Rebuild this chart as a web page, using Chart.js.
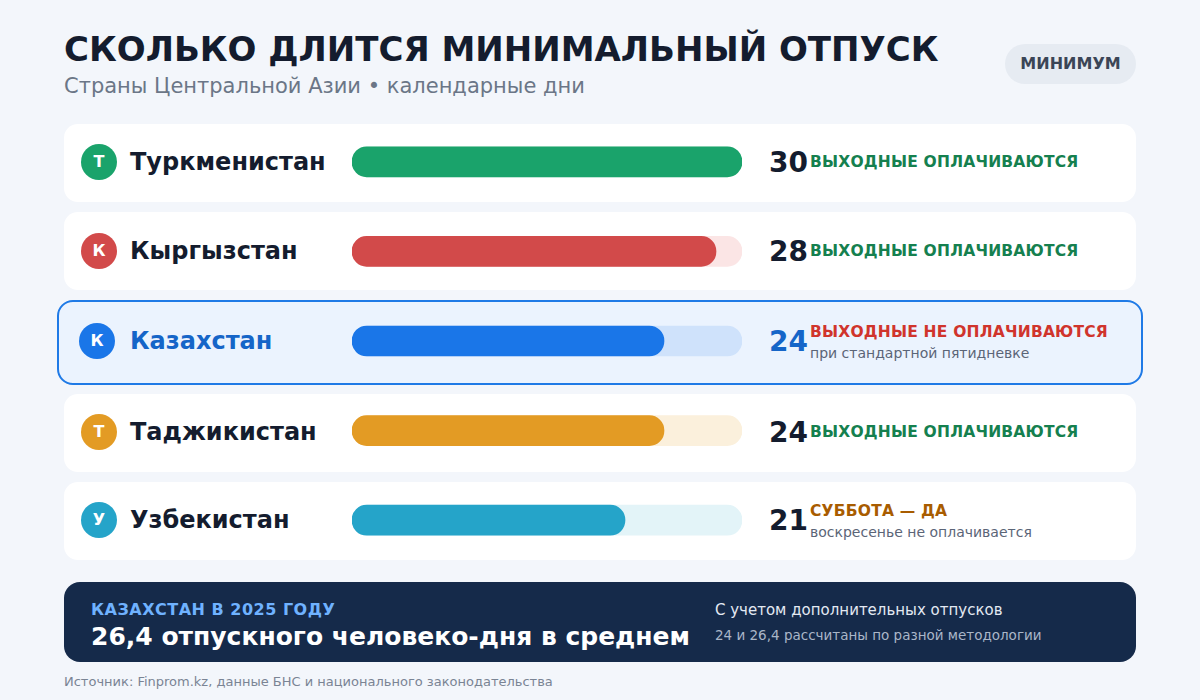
<!DOCTYPE html>
<html><head><meta charset="utf-8">
<script src="https://cdn.jsdelivr.net/npm/chart.js@4"></script>
<style>
body{margin:0;width:1200px;height:700px;background:#f3f6fb;font-family:"DejaVu Sans",sans-serif;position:relative;overflow:hidden}
.abs{position:absolute}
h1{position:absolute;left:64px;top:29px;margin:0;font-size:34px;font-weight:bold;color:#141c2e;letter-spacing:0}
.sub{left:64px;top:74px;font-size:21px;color:#6b7687}
.pill{left:1005px;top:44px;width:131px;height:40px;border-radius:20px;background:#e6ebf2;color:#3b4556;font-weight:bold;font-size:16px;line-height:40px;text-align:center}
.card{position:absolute;left:64px;width:1072px;height:78px;background:#fff;border-radius:14px}
.card.hl{left:57px;width:1082px;height:81px;background:#ebf3fe;border:2.5px solid #1f7ae6;border-radius:16px}
.ic{position:absolute;width:36px;height:36px;border-radius:18px;color:#fff;font-weight:bold;font-size:16px;line-height:36px;text-align:center}
.nm{position:absolute;font-size:24px;font-weight:bold;color:#141c2e}
.val{position:absolute;left:769px;font-size:28px;font-weight:bold;color:#141c2e}
.note{position:absolute;left:810px;font-size:15.5px;font-weight:bold;letter-spacing:0.2px}
.note2{position:absolute;left:810px;font-size:14px;color:#5b6577}
#wrap{position:absolute;left:352px;top:117px;width:390px;height:448px}
.foot{left:64px;top:582px;width:1072px;height:80px;background:#152a4a;border-radius:16px}
.src{left:64px;top:674px;font-size:13px;color:#7a8494}
</style></head><body>
<h1>СКОЛЬКО ДЛИТСЯ МИНИМАЛЬНЫЙ ОТПУСК</h1>
<div class="abs sub">Страны Центральной Азии • календарные дни</div>
<div class="abs pill">МИНИМУМ</div>
<div id="rows"></div>
<div id="wrap"><canvas id="c"></canvas></div>
<div class="abs foot">
 <div class="abs" style="left:27px;top:18px;font-size:16px;font-weight:bold;color:#6fb2ff;letter-spacing:0.5px">КАЗАХСТАН В 2025 ГОДУ</div>
 <div class="abs" style="left:27px;top:40px;font-size:25px;font-weight:bold;color:#fff">26,4 отпускного человеко-дня в среднем</div>
 <div class="abs" style="left:651px;top:19px;font-size:15px;color:#e3e9f2">С учетом дополнительных отпусков</div>
 <div class="abs" style="left:651px;top:45px;font-size:13.5px;color:#aab6c8">24 и 26,4 рассчитаны по разной методологии</div>
</div>
<div class="abs src">Источник: Finprom.kz, данные БНС и национального законодательства</div>
<script>
const countries = ['Туркменистан', 'Кыргызстан', 'Казахстан', 'Таджикистан', 'Узбекистан'];
const letters = ['Т', 'К', 'К', 'Т', 'У'];
const days = [30, 28, 24, 24, 21];
const notes = ['ВЫХОДНЫЕ ОПЛАЧИВАЮТСЯ', 'ВЫХОДНЫЕ ОПЛАЧИВАЮТСЯ', 'ВЫХОДНЫЕ НЕ ОПЛАЧИВАЮТСЯ', 'ВЫХОДНЫЕ ОПЛАЧИВАЮТСЯ', 'СУББОТА — ДА'];
const subNotes = ['', '', 'при стандартной пятидневке', '', 'воскресенье не оплачивается'];
const noteColors = ['#15804f', '#15804f', '#d0342c', '#15804f', '#a85c00'];
const barColors = ['#1aa36b', '#d24a4a', '#1a76e8', '#e39b24', '#25a4c9'];
const trackColors = ['#e3f4ec', '#fbe5e5', '#cfe2fb', '#fbf0dc', '#e3f4f8'];
const maxDays = 30;

const cardTops = [124, 212, 300, 394, 482];
const centers = [164, 253, 343, 434, 522];
let html = '';
countries.forEach(function (name, i) {
  const hl = i === 2;
  html += '<div class="card' + (hl ? ' hl' : '') + '" style="top:' + cardTops[i] + 'px"></div>';
  html += '<div class="ic" style="left:' + (hl ? 79 : 81) + 'px;top:' + (centers[i] - 20) + 'px;background:' + barColors[i] + '">' + letters[i] + '</div>';
  html += '<div class="nm" style="left:130px;top:' + (centers[i] - 16) + 'px;' + (hl ? 'color:#1565c8' : '') + '">' + name + '</div>';
  html += '<div class="val" style="top:' + (centers[i] - 18) + 'px;' + (hl ? 'color:#1565c8' : '') + '">' + days[i] + '</div>';
  const ny = subNotes[i] ? centers[i] - 20 : centers[i] - 11;
  html += '<div class="note" style="top:' + ny + 'px;color:' + noteColors[i] + '">' + notes[i] + '</div>';
  if (subNotes[i]) html += '<div class="note2" style="top:' + (centers[i] + 2) + 'px">' + subNotes[i] + '</div>';
});
document.getElementById('rows').innerHTML = html;

new Chart(document.getElementById('c'), {
  type: 'bar',
  data: {
    labels: countries,
    datasets: [
      { data: days, backgroundColor: barColors, barThickness: 30, borderRadius: 15, borderSkipped: false, grouped: false, order: 0 },
      { data: countries.map(function () { return maxDays; }), backgroundColor: trackColors, barThickness: 30, borderRadius: 15, borderSkipped: false, grouped: false, order: 1 },
    ],
  },
  options: {
    indexAxis: 'y',
    responsive: true,
    maintainAspectRatio: false,
    animation: false,
    layout: { padding: 0 },
    plugins: { legend: { display: false }, tooltip: { enabled: false } },
    scales: {
      x: { display: false, min: 0, max: maxDays },
      y: { display: false },
    },
  },
});
</script>
</body></html>
